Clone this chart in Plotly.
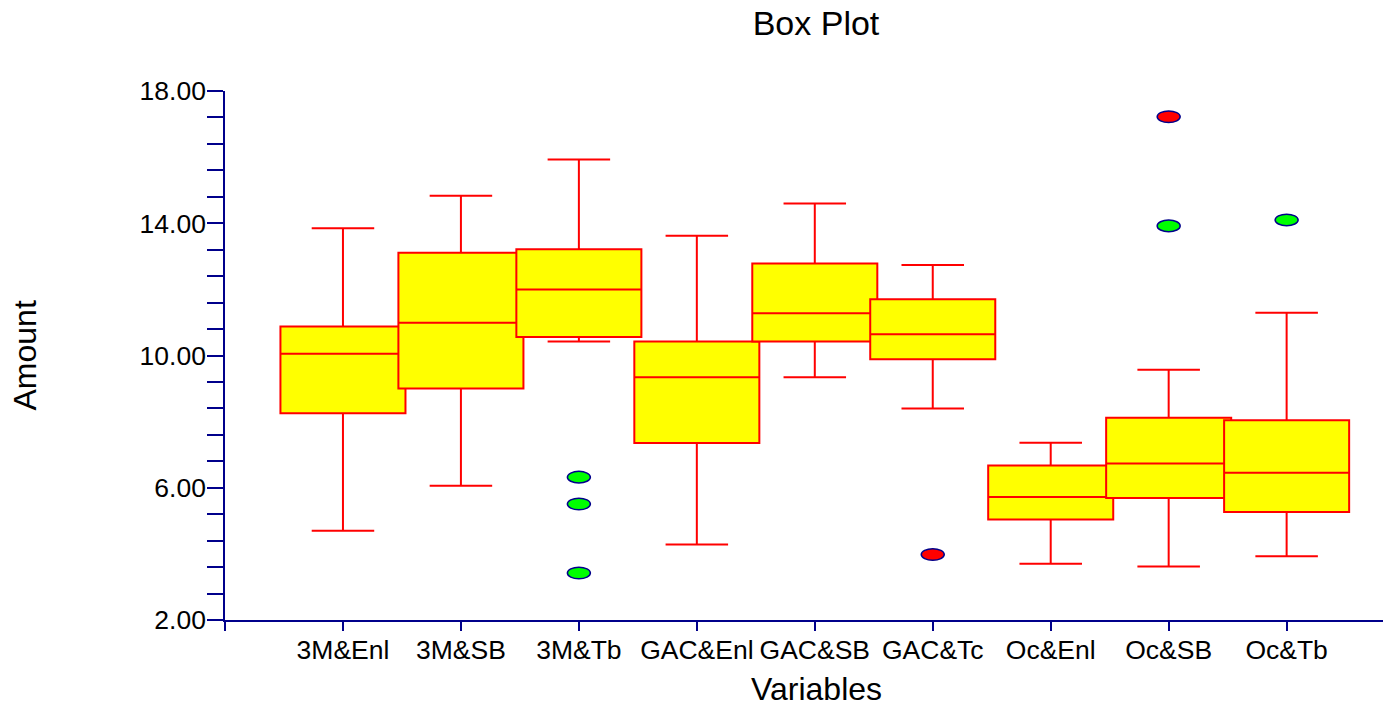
import plotly.graph_objects as go

# ---- data ----
categories = ["3M&Enl", "3M&SB", "3M&Tb", "GAC&Enl", "GAC&SB", "GAC&Tc", "Oc&Enl", "Oc&SB", "Oc&Tb"]
lower_whisker = [4.70, 6.06, 10.42, 4.28, 9.34, 8.40, 3.70, 3.62, 3.93]
q1_values = [8.25, 9.00, 10.56, 7.35, 10.42, 9.89, 5.04, 5.69, 5.27]
median_values = [10.05, 10.99, 12.00, 9.34, 11.28, 10.64, 5.72, 6.73, 6.45]
q3_values = [10.875, 13.11, 13.21, 10.42, 12.78, 11.70, 6.67, 8.12, 8.04]
upper_whisker = [13.85, 14.83, 15.93, 13.62, 14.60, 12.74, 7.36, 9.57, 11.29]

outlier_cat = ["3M&Tb", "3M&Tb", "3M&Tb", "GAC&Tc", "Oc&SB", "Oc&SB", "Oc&Tb"]
outlier_val = [6.32, 5.51, 3.42, 3.98, 17.22, 13.92, 14.10]
outlier_far = [False, False, False, True, True, False, False]

y_tick_values = [2, 6, 10, 14, 18]

# ---- styling ----
FONT = "Liberation Sans, Arial, sans-serif"
NAVY = "#00008B"
RED = "#FF0000"
YELLOW = "#FFFF00"
GREEN = "#00FF00"

positions = [i + 1 for i in range(len(categories))]
pos_of = dict(zip(categories, positions))

fig = go.Figure()
for i, cat in enumerate(categories):
    fig.add_trace(go.Box(
        x=[positions[i]],
        q1=[q1_values[i]], median=[median_values[i]], q3=[q3_values[i]],
        lowerfence=[lower_whisker[i]], upperfence=[upper_whisker[i]],
        name=cat, width=1.06, whiskerwidth=0.5,
        fillcolor=YELLOW, line=dict(color=RED, width=2),
        boxpoints=False, showlegend=False,
    ))

# invisible hover points for the outliers
fig.add_trace(go.Scatter(
    x=[pos_of[c] for c in outlier_cat], y=outlier_val, mode="markers",
    marker=dict(size=12, opacity=0), showlegend=False, hoverinfo="x+y",
))

# elliptical outlier markers, anchored at data coordinates
shapes = []
for c, v, far in zip(outlier_cat, outlier_val, outlier_far):
    shapes.append(dict(
        type="circle", xref="x", yref="y",
        xsizemode="pixel", ysizemode="pixel",
        xanchor=pos_of[c], yanchor=v,
        x0=-11.5, x1=11.5, y0=-5.8, y1=5.8,
        fillcolor=RED if far else GREEN,
        line=dict(color=NAVY, width=1.5),
        layer="above",
    ))

fig.update_layout(
    width=1383, height=707,
    margin=dict(l=225, r=0, t=91, b=87),
    paper_bgcolor="white", plot_bgcolor="white",
    font=dict(family=FONT, color="black"),
    boxmode="overlay",
    showlegend=False,
    shapes=shapes,
    title=dict(text="Box Plot", font=dict(size=34, family=FONT, color="black"),
               x=816 / 1383, xref="container", xanchor="center",
               y=1 - 23 / 707, yref="container", yanchor="middle"),
    xaxis=dict(
        range=[0, 9.817],
        tickmode="array", tickvals=[0] + positions, ticktext=[""] + categories,
        ticks="outside", ticklen=9, tickwidth=1.5, tickcolor=NAVY,
        showline=True, linecolor=NAVY, linewidth=1.5,
        showgrid=False, zeroline=False,
        ticklabelstandoff=-4,
        tickfont=dict(size=26.5, family=FONT, color="black"),
    ),
    yaxis=dict(
        range=[2, 18],
        tickmode="array", tickvals=y_tick_values, tickformat=".2f",
        ticks="outside", ticklen=16, tickwidth=1.5, tickcolor=NAVY,
        minor=dict(dtick=0.8, tick0=2, ticks="outside", ticklen=16,
                   tickwidth=1.5, tickcolor=NAVY, showgrid=False),
        showline=True, linecolor=NAVY, linewidth=1.5,
        showgrid=False, zeroline=False,
        ticklabelstandoff=-4,
        tickfont=dict(size=26.5, family=FONT, color="black"),
    ),
    annotations=[
        dict(text="Variables", xref="paper", yref="paper",
             x=(816 - 225) / 1158, y=(620.5 - 689) / 529,
             xanchor="center", yanchor="middle", showarrow=False,
             font=dict(size=32, family=FONT, color="black")),
        dict(text="Amount", xref="paper", yref="paper",
             x=(24 - 225) / 1158, y=0.5, textangle=-90,
             xanchor="center", yanchor="middle", showarrow=False,
             font=dict(size=32, family=FONT, color="black")),
    ],
)

fig.write_html("out.html",
               config={"displayModeBar": False},
               post_script="document.body.style.margin='0';document.body.style.overflow='hidden';")
